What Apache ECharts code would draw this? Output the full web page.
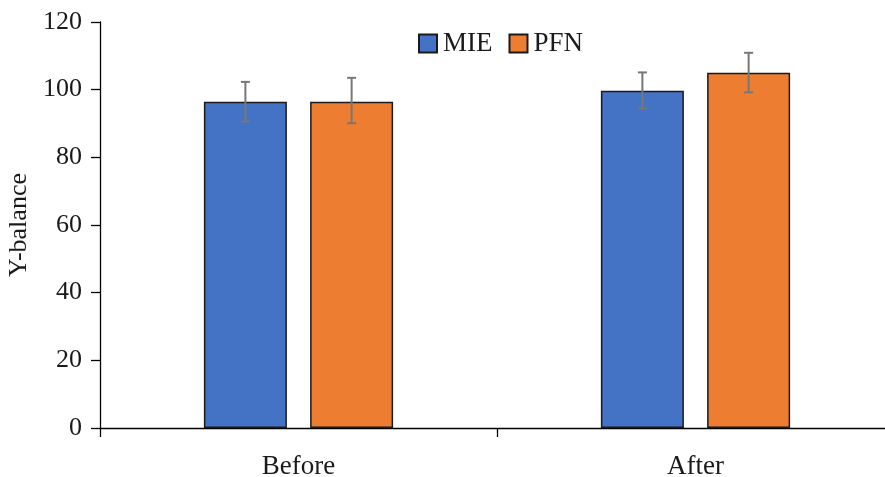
<!DOCTYPE html>
<html>
<head>
<meta charset="utf-8">
<script src="https://cdn.jsdelivr.net/npm/echarts@6/dist/echarts.min.js"></script>
<style>html,body{margin:0;padding:0;background:#fff}#c{width:885px;height:477px}</style>
</head>
<body>
<div id="c"></div>
<script>
var categories = ['Before', 'After'];
var mieValues = [96.4, 99.7];
var pfnValues = [96.4, 105.0];
var mieLow = [90.6, 94.4];
var mieHigh = [102.3, 105.1];
var pfnLow = [90.1, 99.2];
var pfnHigh = [103.5, 110.9];
var yTicks = [0, 20, 40, 60, 80, 100, 120];

var FONT = '"Liberation Serif", "Times New Roman", serif';
var BAR_W = 83, GAP = 0.28;
var OFFSET = (BAR_W + BAR_W * GAP) / 2;

function errSeries(name, low, high, sign) {
  var data = categories.map(function (c, i) { return [i, low[i], high[i]]; });
  return {
    type: 'custom', name: name + '-err', silent: true, z: 10,
    data: data,
    renderItem: function (params, api) {
      var x = api.value(0);
      var lo = api.coord([x, api.value(1)]);
      var hi = api.coord([x, api.value(2)]);
      var cx = lo[0] + sign * OFFSET;
      var cap = 4.5;
      var st = { stroke: '#777777', lineWidth: 2, fill: null };
      return { type: 'group', children: [
        { type: 'line', shape: { x1: cx, y1: lo[1], x2: cx, y2: hi[1] }, style: st },
        { type: 'line', shape: { x1: cx - cap, y1: lo[1], x2: cx + cap, y2: lo[1] }, style: st },
        { type: 'line', shape: { x1: cx - cap, y1: hi[1], x2: cx + cap, y2: hi[1] }, style: st }
      ]};
    }
  };
}

var chart = echarts.init(document.getElementById('c'));
chart.setOption({
  animation: false,
  textStyle: { fontFamily: FONT },
  legend: {
    data: ['MIE', 'PFN'], top: 30, left: 418, padding: 0,
    icon: 'rect', itemWidth: 18, itemHeight: 18, itemGap: 16,
    textStyle: { fontFamily: FONT, fontSize: 27, color: '#1a1a1a', padding: [0, 0, 0, 1] }
  },
  grid: { left: 100, right: -9, top: 22, bottom: 49, outerBoundsMode: 'none', containLabel: false },
  xAxis: {
    type: 'category', data: categories,
    axisLine: { lineStyle: { color: '#000', width: 1.3 } },
    axisTick: { show: true, length: 9, lineStyle: { color: '#000', width: 1.3 } },
    axisLabel: { fontFamily: FONT, fontSize: 27, color: '#1a1a1a', margin: 25 }
  },
  yAxis: {
    type: 'value', min: yTicks[0], max: yTicks[yTicks.length - 1], interval: 20,
    name: 'Y-balance', nameLocation: 'middle', nameRotate: 90, nameGap: 64,
    nameTextStyle: { fontFamily: FONT, fontSize: 26, color: '#1a1a1a' },
    axisLine: { show: true, lineStyle: { color: '#000', width: 1.3 } },
    axisTick: { show: true, length: 9, lineStyle: { color: '#000', width: 1.3 } },
    axisLabel: { fontFamily: FONT, fontSize: 26, color: '#1a1a1a', margin: 18 },
    splitLine: { show: false }
  },
  series: [
    { name: 'MIE', type: 'bar', data: mieValues, barWidth: BAR_W, barGap: (GAP * 100) + '%',
      itemStyle: { color: '#4472C4', borderColor: '#1a1a1a', borderWidth: 1.5 } },
    { name: 'PFN', type: 'bar', data: pfnValues, barWidth: BAR_W,
      itemStyle: { color: '#ED7D31', borderColor: '#1a1a1a', borderWidth: 1.5 } },
    errSeries('MIE', mieLow, mieHigh, -1),
    errSeries('PFN', pfnLow, pfnHigh, 1)
  ]
});
</script>
</body>
</html>
